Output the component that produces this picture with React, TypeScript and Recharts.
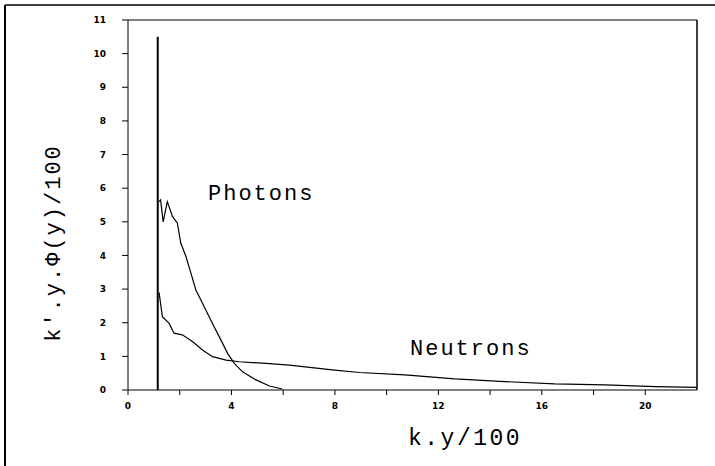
import React from 'react';
import { LineChart, Line, XAxis, YAxis, ReferenceLine } from 'recharts';

const photonX = [1.2, 1.26, 1.36, 1.52, 1.72, 1.91, 2.04, 2.24, 2.43, 2.62, 2.88, 3.07, 3.33, 3.59, 3.85, 4.11, 4.43, 4.95, 5.47, 5.97];
const photonY = [5.6, 5.65, 5.0, 5.6, 5.16, 4.96, 4.37, 3.97, 3.48, 2.98, 2.58, 2.28, 1.88, 1.49, 1.09, 0.79, 0.54, 0.3, 0.12, 0.03];

const neutronX = [1.2, 1.33, 1.59, 1.78, 2.1, 2.49, 2.88, 3.27, 3.79, 4.3, 5.34, 6.24, 7.9, 8.95, 10.7, 12.64, 14.57, 16.5, 18.45, 20.4, 22];
const neutronY = [2.9, 2.18, 1.98, 1.69, 1.64, 1.44, 1.19, 0.99, 0.89, 0.84, 0.79, 0.74, 0.6, 0.52, 0.45, 0.33, 0.25, 0.18, 0.15, 0.1, 0.08];

const spikeX = [1.15, 1.15];
const spikeY = [0, 10.5];

const xTicks = [0, 2, 4, 6, 8, 10, 12, 14, 16, 18, 20];
const xLabeled = [0, 4, 8, 12, 16, 20];
const yTicks = [0, 1, 2, 3, 4, 5, 6, 7, 8, 9, 10, 11];

const xLabel = 'k.y/100';
const yLabel = "k'.y.\u03A6(y)/100";
const photonLabel = 'Photons';
const neutronLabel = 'Neutrons';

const toPts = (xs: number[], ys: number[]) => xs.map((x, i) => ({ x, y: ys[i] }));
const photons = toPts(photonX, photonY);
const neutrons = toPts(neutronX, neutronY);
const spike = toPts(spikeX, spikeY);

const mono = '"Liberation Mono", "DejaVu Sans Mono", monospace';
const tickFont = { fontSize: 9, fill: '#000', fontFamily: '"DejaVu Sans", sans-serif', fontWeight: 700 };

export default function App() {
  return (
    <div style={{ position: 'absolute', left: 0, top: 0, width: 715, height: 466, background: '#fff' }}>
      <LineChart width={715} height={466} margin={{ top: 20, right: 18, bottom: 46, left: 98 }}>
        <XAxis
          type="number"
          dataKey="x"
          domain={[0, 22]}
          ticks={xTicks}
          tickFormatter={(v: number) => (xLabeled.includes(v) ? String(v) : '')}
          allowDataOverflow
          height={30}
          tickSize={5}
          tickMargin={8}
          stroke="#000"
          tick={tickFont}
        />
        <YAxis
          type="number"
          dataKey="y"
          domain={[0, 11]}
          ticks={yTicks}
          width={30}
          tickSize={6}
          tickMargin={16}
          stroke="#000"
          tick={tickFont}
        />
        <ReferenceLine y={11} stroke="#000" strokeWidth={1.2} />
        <ReferenceLine x={22} stroke="#000" strokeWidth={1.5} />
        <Line data={spike} dataKey="y" stroke="#000" strokeWidth={2} dot={false} isAnimationActive={false} />
        <Line data={photons} dataKey="y" stroke="#000" strokeWidth={1.2} dot={false} isAnimationActive={false} />
        <Line data={neutrons} dataKey="y" stroke="#000" strokeWidth={1.2} dot={false} isAnimationActive={false} />
      </LineChart>
      <svg width={715} height={466} style={{ position: 'absolute', left: 0, top: 0, pointerEvents: 'none' }}>
        <line x1={5} y1={5} x2={5} y2={466} stroke="#000" strokeWidth={2} />
        <line x1={5} y1={5} x2={715} y2={5} stroke="#000" strokeWidth={1.5} />
        <text x={208} y={200} fontFamily={mono} fontSize={22} letterSpacing={2} fill="#000">{photonLabel}</text>
        <text x={410} y={355} fontFamily={mono} fontSize={22} letterSpacing={2} fill="#000">{neutronLabel}</text>
        <text x={408} y={445} fontFamily={mono} fontSize={23} letterSpacing={2.5} fill="#000">{xLabel}</text>
        <text transform="translate(60,243) rotate(-90)" textAnchor="middle" fontFamily={mono} fontSize={22} letterSpacing={2} fill="#000">{yLabel}</text>
      </svg>
    </div>
  );
}
